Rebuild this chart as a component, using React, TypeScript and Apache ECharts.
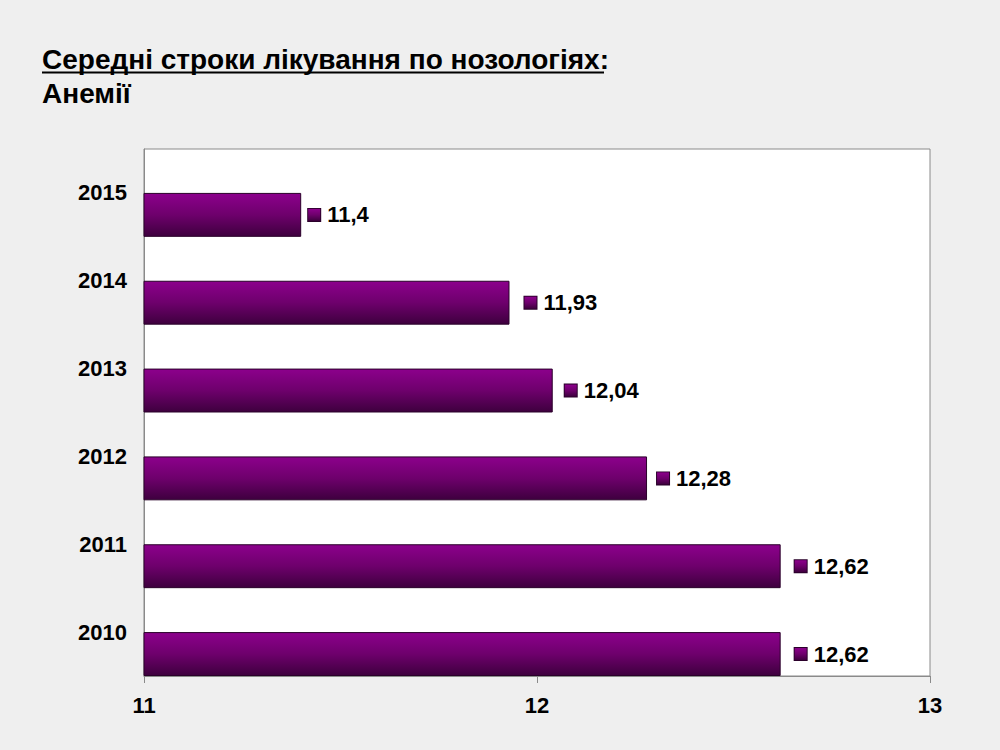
import React, { useEffect, useRef } from "react";
import * as echarts from "echarts";

const titleLine1 = "Середні строки лікування по нозологіях:";
const titleLine2 = "Анемії";
const years = ["2010", "2011", "2012", "2013", "2014", "2015"];
const values = [12.62, 12.62, 12.28, 12.04, 11.93, 11.4];
const xTicks = [11, 12, 13];
// gap between bar end and value label, per bar (as drawn in the reference)
const labelGaps = [14, 14, 10, 12, 15, 7];

const barGradient = {
  type: "linear",
  x: 0,
  y: 0,
  x2: 0,
  y2: 1,
  colorStops: [
    { offset: 0, color: "#8c008c" },
    { offset: 0.5, color: "#6e006c" },
    { offset: 1, color: "#3e003e" },
  ],
};

const FONT = "'Liberation Sans', Arial, sans-serif";

export default function App() {
  const ref = useRef<HTMLDivElement>(null);
  useEffect(() => {
    if (!ref.current) return;
    const chart = echarts.init(ref.current, undefined, { renderer: "svg" });
    chart.setOption({
      animation: false,
      backgroundColor: "#efefef",
      textStyle: { fontFamily: FONT },
      graphic: [
        {
          type: "text",
          left: 42,
          top: 45,
          style: {
            text: titleLine1,
            font: "bold 28px " + FONT,
            fill: "#000",
          },
        },
        {
          type: "text",
          left: 42,
          top: 79,
          style: {
            text: titleLine2,
            font: "bold 28px " + FONT,
            fill: "#000",
          },
        },
        {
          type: "line",
          shape: { x1: 42, y1: 72.5, x2: 604, y2: 72.5 },
          style: { stroke: "#000", lineWidth: 2 },
        },
      ],
      grid: {
        left: 144,
        top: 149,
        width: 786,
        height: 527,
        show: true,
        backgroundColor: "#ffffff",
        borderColor: "#8a8a8a",
        borderWidth: 1,
      },
      xAxis: {
        type: "value",
        min: xTicks[0],
        max: xTicks[xTicks.length - 1],
        interval: 1,
        splitLine: { show: false },
        axisLine: { show: true, lineStyle: { color: "#8a8a8a" } },
        axisTick: { show: true, length: 7, lineStyle: { color: "#8a8a8a" } },
        axisLabel: {
          color: "#000",
          fontWeight: "bold",
          fontSize: 22,
          margin: 18,
          fontFamily: FONT,
        },
      },
      yAxis: {
        type: "category",
        data: years,
        axisLine: { show: true, lineStyle: { color: "#8a8a8a" } },
        axisTick: { show: false },
        axisLabel: {
          color: "#000",
          fontWeight: "bold",
          fontSize: 22,
          margin: 17,
          fontFamily: FONT,
        },
      },
      series: [
        {
          type: "bar",
          data: years.map(() => null),
          barGap: "0%",
          barCategoryGap: "0%",
        },
        {
          type: "bar",
          data: values.map((v, i) => ({
            value: v,
            label: { distance: labelGaps[i] },
          })),
          barGap: "0%",
          barCategoryGap: "0%",
          itemStyle: {
            color: barGradient,
            borderColor: "#2a002a",
            borderWidth: 1,
          },
          label: {
            show: true,
            position: "right",
            distance: 10,
            formatter: (p: any) => "{m|}{v|" + String(p.value).replace(".", ",") + "}",
            rich: {
              m: {
                width: 12,
                height: 12,
                backgroundColor: barGradient,
                borderColor: "#2a002a",
                borderWidth: 1,
              },
              v: {
                color: "#000",
                fontWeight: "bold",
                fontSize: 22,
                padding: [0, 0, 0, 7],
                fontFamily: FONT,
              },
            },
          },
        },
      ],
    });
    return () => chart.dispose();
  }, []);
  return (
    <div
      ref={ref}
      style={{ position: "absolute", left: 0, top: 0, width: 1000, height: 750 }}
    />
  );
}
